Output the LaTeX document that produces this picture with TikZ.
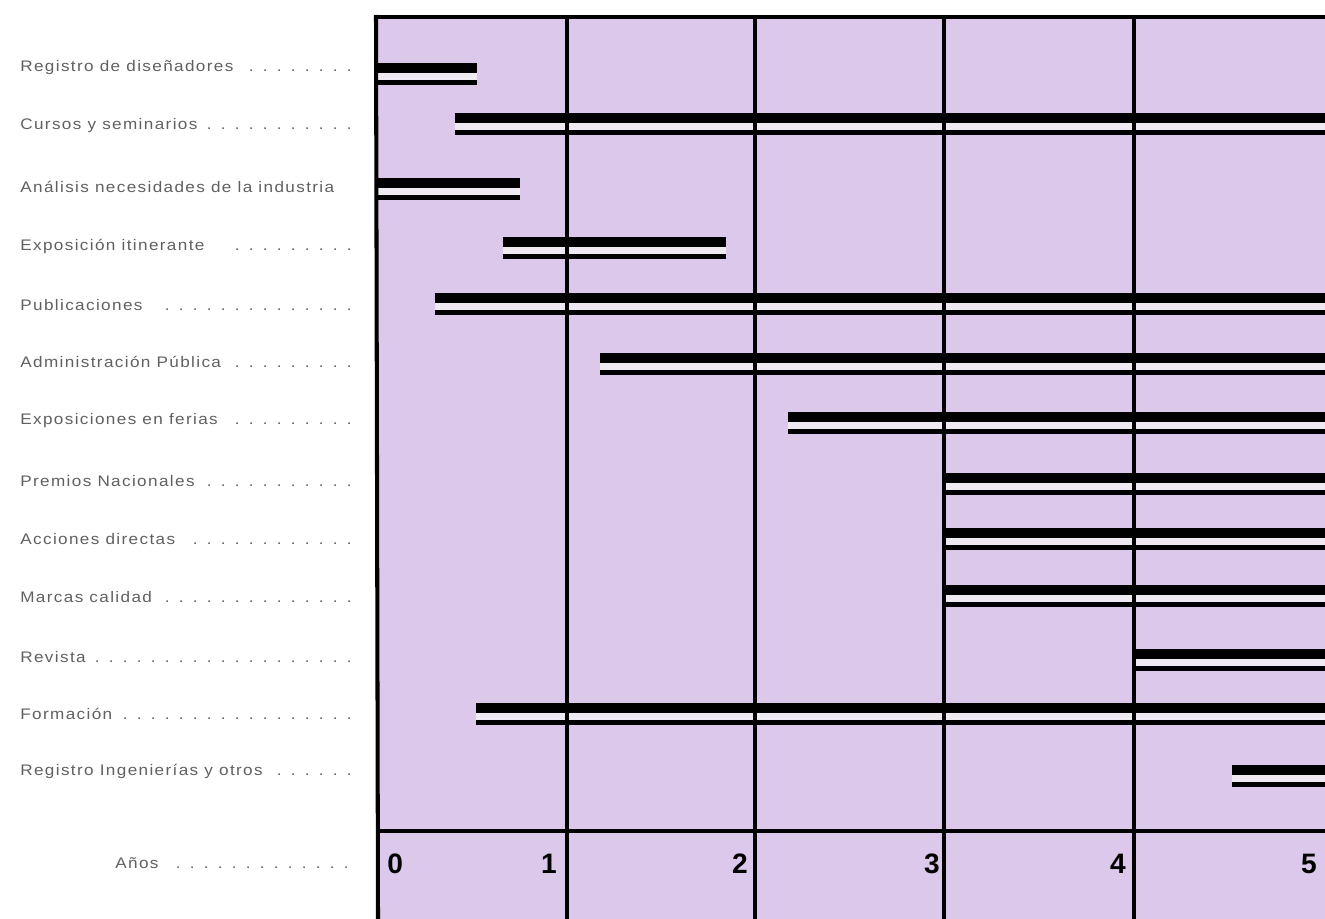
\documentclass[tikz,border=0pt]{standalone}
\usepackage{fontspec}
\setmainfont{Liberation Sans}
\newfontfamily\labfont[FakeStretch=1.12,LetterSpace=9]{Liberation Sans}
\definecolor{lila}{HTML}{DBC8EA}
\definecolor{gapc}{HTML}{EFEAF1}
\definecolor{txt}{HTML}{606060}
\newcommand\dotlead{\leaders\hbox to 0.28cm{\hss.\hss}\hfill}
\tikzset{
  lab/.style={anchor=west,inner sep=0pt,text=txt,font=\labfont\fontsize{8.7}{10}\selectfont},
  num/.style={anchor=base east,inner sep=0pt,font=\bfseries\fontsize{16}{18}\selectfont},
  grid/.style={line width=2.3pt,black},
}
\newcommand\gapband[3]{\fill[gapc] (#1,#3+5) rectangle (#2,#3+12);}
\newcommand\barpair[3]{\fill[black] (#1,#3-5) rectangle (#2,#3+5);
  \fill[black] (#1,#3+12) rectangle (#2,#3+17);}
\begin{document}
\begin{tikzpicture}[x=0.02cm,y=-0.02cm]
\useasboundingbox (0,0) rectangle (1325,919);
\fill[lila] (376,17) rectangle (1325,919);
% gap bands
\gapband{376}{477}{68}
\gapband{455}{1325}{118}
\gapband{376}{520}{183}
\gapband{503}{726}{242}
\gapband{435}{1325}{298}
\gapband{600}{1325}{358}
\gapband{788}{1325}{417}
\gapband{944}{1325}{478}
\gapband{944}{1325}{533}
\gapband{944}{1325}{590}
\gapband{1134}{1325}{654}
\gapband{476}{1325}{708}
\gapband{1232}{1325}{770}
% grid
\draw[grid] (374.9,17) -- (1325,17);
\draw[grid] (376,15) -- (378,919);
\foreach \x in {567,755,944,1134} \draw[grid] (\x,15) -- (\x,919);
\draw[line width=1.8pt] (376,831) -- (1325,831);
% bars
\barpair{376}{477}{68}
\barpair{455}{1325}{118}
\barpair{376}{520}{183}
\barpair{503}{726}{242}
\barpair{435}{1325}{298}
\barpair{600}{1325}{358}
\barpair{788}{1325}{417}
\barpair{944}{1325}{478}
\barpair{944}{1325}{533}
\barpair{944}{1325}{590}
\barpair{1134}{1325}{654}
\barpair{476}{1325}{708}
\barpair{1232}{1325}{770}
% labels
\node[lab] (l1) at (20,68) {\hbox to 6.9cm{Registro de diseñadores\dotlead}};
\node[lab] (l2) at (20,126) {\hbox to 6.9cm{Cursos y seminarios\dotlead}};
\node[lab] (l3) at (20,187) {Análisis necesidades de la industria};
\node[lab] (l4) at (20,246) {\hbox to 6.9cm{Exposición itinerante\hskip 1em\dotlead}};
\node[lab] (l5) at (20,305) {\hbox to 6.9cm{Publicaciones\hskip 0.5em\dotlead}};
\node[lab] (l6) at (20,362) {\hbox to 6.9cm{Administración Pública\dotlead}};
\node[lab] (l7) at (20,421) {\hbox to 6.9cm{Exposiciones en ferias\hskip 0.5em\dotlead}};
\node[lab] (l8) at (20,481) {\hbox to 6.9cm{Premios Nacionales\dotlead}};
\node[lab] (l9) at (20,539) {\hbox to 6.9cm{Acciones directas\dotlead}};
\node[lab] (l10) at (20,597) {\hbox to 6.9cm{Marcas calidad\dotlead}};
\node[lab] (l11) at (20,657) {\hbox to 6.9cm{Revista\dotlead}};
\node[lab] (l12) at (20,714) {\hbox to 6.9cm{Formación\dotlead}};
\node[lab] (l13) at (20,771) {\hbox to 6.9cm{Registro Ingenierías y otros\dotlead}};
\node[lab] (l14) at (115,863) {\hbox to 5.0cm{Años\hskip 0.5em\dotlead}};
% year numbers
\node[anchor=base west,inner sep=0pt,font=\bfseries\fontsize{16}{18}\selectfont] (n0) at (387,873) {0};
\node[num] (n1) at (557,873) {1};
\node[num] (n2) at (748,873) {2};
\node[num] (n3) at (940,873) {3};
\node[num] (n4) at (1126,873) {4};
\node[num] (n5) at (1317,873) {5};
\end{tikzpicture}
\end{document}
